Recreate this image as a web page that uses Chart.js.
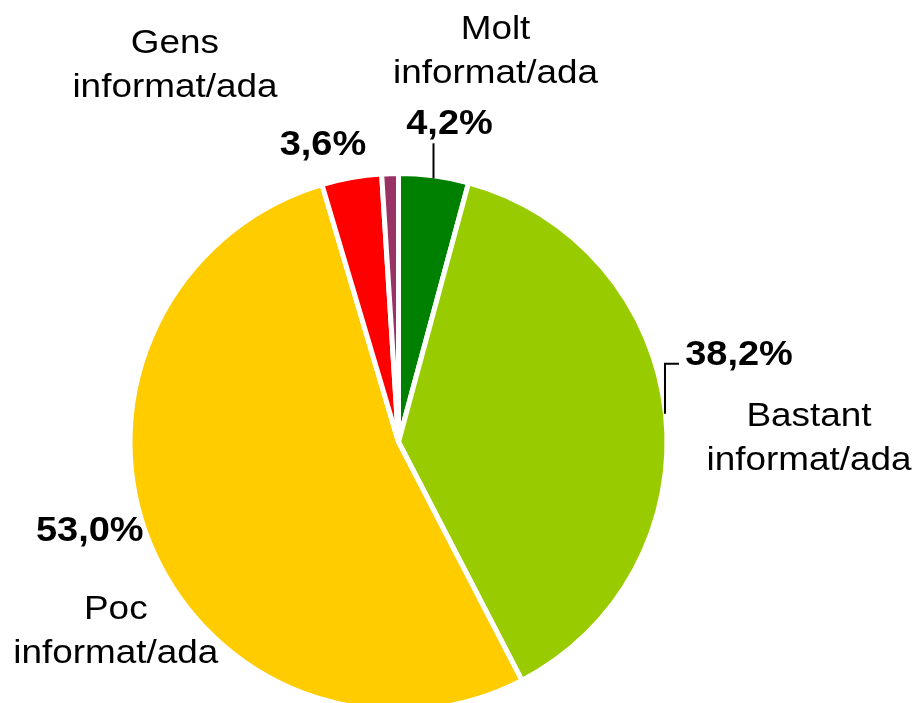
<!DOCTYPE html>
<html>
<head>
<meta charset="utf-8">
<script src="https://cdn.jsdelivr.net/npm/chart.js@4/dist/chart.umd.min.js"></script>
<style>
  html, body { margin: 0; padding: 0; background: #fff; overflow: hidden; width: 912px; height: 703px; }
  #wrap { width: 912px; height: 760px; }
</style>
</head>
<body>
<div id="wrap"><canvas id="c" width="912" height="760"></canvas></div>
<script>
// ---- Data ----
const categories = ['Molt informat/ada', 'Bastant informat/ada', 'Poc informat/ada', 'Gens informat/ada', 'NS/NC'];
const values = [4.2, 38.2, 53.0, 3.6, 1.0];
const showLabel = [true, true, true, true, false];
const colors = ['#008000', '#99CC00', '#FFCC00', '#FF0000', '#993366'];

// ---- Label layout (offsets relative to the slice's outer mid-point) ----
const BORDER = 5;
const SX = 1.085;
const labelLayout = [
  { pct: [16, -44], name: [62, -139], leader: [[0, 0], [0, -35]] },
  { pct: [76, -49], name: [146, 12], leader: [[2, 0], [2, -50], [16, -50]] },
  { pct: [-62, 0], name: [-36, 78], leader: null },
  { pct: [-29, -25], name: [-177, -127], leader: null },
  null
];
const LINE_H = 44;

function fmt(v) { return v.toFixed(1).replace('.', ',') + '%'; }

function drawText(ctx, str, cx, base, font) {
  ctx.save();
  ctx.translate(cx, base);
  ctx.scale(SX, 1);
  ctx.font = font;
  ctx.fillStyle = '#000';
  ctx.textAlign = 'center';
  ctx.textBaseline = 'alphabetic';
  ctx.fillText(str, 0, 0);
  ctx.restore();
}

const sliceLabels = {
  id: 'sliceLabels',
  afterDatasetsDraw(chart) {
    const ctx = chart.ctx;
    const meta = chart.getDatasetMeta(0);
    meta.data.forEach((arc, i) => {
      const cfg = labelLayout[i];
      if (!cfg || !showLabel[i]) return;
      const p = arc.getProps(['x', 'y', 'startAngle', 'endAngle', 'outerRadius'], true);
      const mid = (p.startAngle + p.endAngle) / 2;
      const r = p.outerRadius - BORDER / 2;
      const ax = p.x + Math.cos(mid) * r;
      const ay = p.y + Math.sin(mid) * r;
      if (cfg.leader) {
        ctx.save();
        ctx.strokeStyle = '#000';
        ctx.lineWidth = 2;
        ctx.beginPath();
        cfg.leader.forEach((pt, k) => {
          if (k === 0) ctx.moveTo(ax + pt[0], ay + pt[1]);
          else ctx.lineTo(ax + pt[0], ay + pt[1]);
        });
        ctx.stroke();
        ctx.restore();
      }
      drawText(ctx, fmt(values[i]), ax + cfg.pct[0], ay + cfg.pct[1], 'bold 35px "Liberation Sans", Arial, sans-serif');
      const name = categories[i];
      const sp = name.indexOf(' ');
      const lines = [name.slice(0, sp), name.slice(sp + 1)];
      lines.forEach((ln, k) => {
        drawText(ctx, ln, ax + cfg.name[0], ay + cfg.name[1] + k * LINE_H, '34px "Liberation Sans", Arial, sans-serif');
      });
    });
  }
};

new Chart(document.getElementById('c'), {
  type: 'pie',
  data: {
    labels: categories,
    datasets: [{
      data: values,
      backgroundColor: colors,
      borderColor: '#ffffff',
      borderWidth: BORDER,
      hoverOffset: 0
    }]
  },
  options: {
    responsive: false,
    animation: false,
    events: [],
    devicePixelRatio: 1,
    layout: { padding: { left: 127.5, right: 242.5, top: 171, bottom: 47 } },
    plugins: { legend: { display: false }, tooltip: { enabled: false } }
  },
  plugins: [sliceLabels]
});
</script>
</body>
</html>
